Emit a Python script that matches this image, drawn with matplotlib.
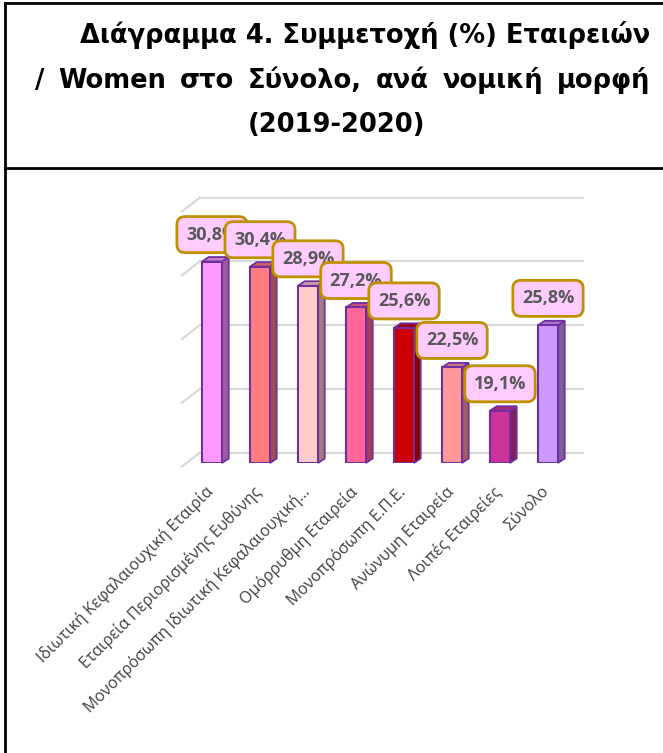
import numpy as np
import matplotlib
matplotlib.use("Agg")
import matplotlib.pyplot as plt
from matplotlib.patches import Polygon
from matplotlib.lines import Line2D
from matplotlib import colors as mcolors
from matplotlib.transforms import ScaledTranslation

# data
categories = [
    "Ιδιωτική Κεφαλαιουχική Εταιρία",
    "Εταιρεία Περιορισμένης Ευθύνης",
    "Μονοπρόσωπη Ιδιωτική Κεφαλαιουχική…",
    "Ομόρρυθμη Εταιρεία",
    "Μονοπρόσωπη Ε.Π.Ε.",
    "Ανώνυμη Εταιρεία",
    "Λοιπές Εταιρείες",
    "Σύνολο",
]
values = [30.8, 30.4, 28.9, 27.2, 25.6, 22.5, 19.1, 25.8]
bar_colors = ["#FF99FF", "#FF7C80", "#FFCCCC", "#FF6699",
              "#CC0000", "#FF9999", "#CC3399", "#CC99FF"]
grid_values = [15, 20, 25, 30, 35]
title_lines = ["Διάγραμμα 4. Συμμετοχή (%) Εταιρειών",
               "/ Women στο Σύνολο, ανά νομική μορφή",
               "(2019-2020)"]

W, H = 663, 753
fig = plt.figure(figsize=(W / 100, H / 100), dpi=100)
renderer = fig.canvas.get_renderer()

# layout in pixels (x0 = first bar centre, step per bar, px per %)
x0, step, ppv, base_px = 212, 48, 12.75, 463
ax_l, ax_r, ax_t = 170, 600, 190
ax = fig.add_axes([ax_l / W, (H - base_px) / H, (ax_r - ax_l) / W, (base_px - ax_t) / H])
ax.set_xlim((ax_l - x0) / step, (ax_r - x0) / step)
ax.set_ylim(15, 15 + (base_px - ax_t) / ppv)
for s in ax.spines.values():
    s.set_visible(False)
ax.set_yticks([])

def px_x(p):
    return p / step

def px_y(p):
    return p / ppv

# back wall gridlines + left floor diagonals
gx0, gx1 = px_x(200 - x0), px_x(583 - x0)
for g in grid_values:
    ax.plot([gx0, gx1], [g + px_y(10.5), g + px_y(10.5)], color="#D9D9D9", lw=1.6, zorder=1, clip_on=False)
    ax.plot([px_x(182 - x0), gx0], [g - px_y(3.5), g + px_y(10.5)], color="#D9D9D9", lw=1.6, zorder=1, clip_on=False)

# 3D-looking bars
bw = px_x(20) / 2
dx, dy = px_x(6.7), px_y(4.5)
edge = "#7030A0"
x = np.arange(len(values))
for i, (v, c) in enumerate(zip(values, bar_colors)):
    rgb = np.array(mcolors.to_rgb(c))
    side = np.clip(rgb * 0.62, 0, 1)
    top = np.clip(rgb * 0.8, 0, 1)
    z = 3 + i
    ax.add_patch(Polygon([(i + bw, 15), (i + bw + dx, 15 + dy), (i + bw + dx, v + dy), (i + bw, v)],
                         closed=True, fc=side, ec=edge, lw=1.3, zorder=z, clip_on=False))
    ax.add_patch(Polygon([(i - bw, v), (i + bw, v), (i + bw + dx, v + dy), (i - bw + dx, v + dy)],
                         closed=True, fc=top, ec=edge, lw=1.3, zorder=z, clip_on=False))
    ax.bar(i, v - 15, bottom=15, width=2 * bw, color=c, edgecolor=edge, lw=1.5, zorder=z + 0.1)

# data labels
for i, v in enumerate(values):
    ax.annotate(f"{v:.1f}%".replace(".", ","), xy=(i, v), xytext=(0, 19.4),
                textcoords="offset points", ha="center", va="center",
                fontsize=13, fontweight="bold", color="#595959", family="Open Sans",
                bbox=dict(boxstyle="round,pad=0.5,rounding_size=0.45", fc="#FFCCFF",
                          ec="#BF9000", lw=2),
                zorder=20 + i, annotation_clip=False)

ax.set_xticks(x)
ax.set_xticklabels(categories, rotation=45, ha="right", rotation_mode="anchor",
                   fontsize=11.5, color="#404040", family="Open Sans")
ax.tick_params(axis="x", length=0, pad=12)
shift = ScaledTranslation(-7 / 100, -4 / 100, fig.dpi_scale_trans)
for lab in ax.get_xticklabels():
    lab.set_transform(lab.get_transform() + shift)

# title
tkw = dict(fontsize=18.5, fontweight="bold", family="DejaVu Sans", color="black", va="center")


def justify(line, x_left, x_right, y):
    words = line.split(" ")
    texts = [fig.text(0, 1 - y / H, w, ha="left", **tkw) for w in words]
    widths = [t.get_window_extent(renderer).width for t in texts]
    gap = (x_right - x_left - sum(widths)) / (len(words) - 1)
    pos = x_left
    for t, w in zip(texts, widths):
        t.set_x(pos / W)
        pos += w + gap


fig.text(650 / W, 1 - 35 / H, title_lines[0], ha="right", **tkw)
justify(title_lines[1], 35, 650, 81)
fig.text(336 / W, 1 - 125 / H, title_lines[2], ha="center", **tkw)

# frame lines
for xs, ys in [([5, 5], [3, H]), ([5, W], [3, 3]), ([5, W], [168, 168])]:
    fig.add_artist(Line2D([p / W for p in xs], [1 - p / H for p in ys], color="black", lw=2))

fig.savefig("out.png", dpi=100)
